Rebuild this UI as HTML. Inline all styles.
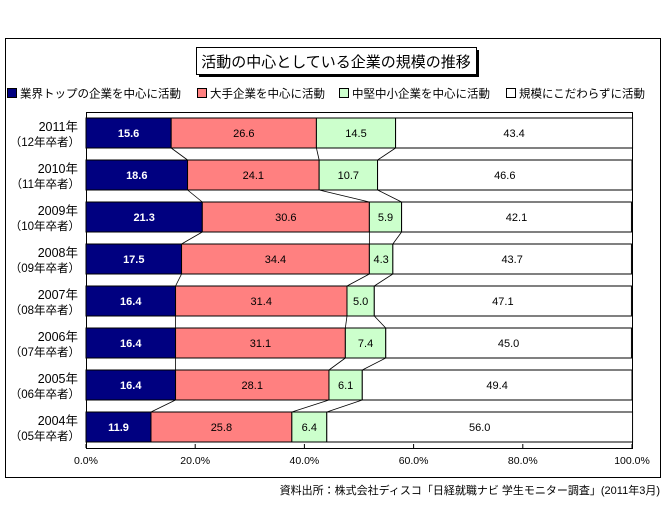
<!DOCTYPE html>
<html><head><meta charset="utf-8">
<style>
body{margin:0;background:#fff;width:666px;height:505px;overflow:hidden;font-family:"Liberation Sans","Noto Sans CJK JP",sans-serif;}
svg{display:block}
</style></head>
<body>
<svg id="chart" width="666" height="505">
<rect x="5.5" y="38.5" width="655" height="439" fill="#fff" stroke="#000" stroke-width="1"/>
<rect x="199" y="50" width="280" height="27" fill="#000"/>
<rect x="196.5" y="47.5" width="280" height="27" fill="#fff" stroke="#000"/>
<text x="336" y="67" text-anchor="middle" font-size="15">活動の中心としている企業の規模の推移</text>
<g id="legend" font-size="11.5"></g>
<g id="plot"></g>
<text x="660" y="494" text-anchor="end" font-size="11">資料出所：株式会社ディスコ「日経就職ナビ 学生モニター調査」(2011年3月)</text>
</svg>
<script>
const categories=["2011年","2010年","2009年","2008年","2007年","2006年","2005年","2004年"];
const subLabels=["（12年卒者）","（11年卒者）","（10年卒者）","（09年卒者）","（08年卒者）","（07年卒者）","（06年卒者）","（05年卒者）"];
const seriesNames=["業界トップの企業を中心に活動","大手企業を中心に活動","中堅中小企業を中心に活動","規模にこだわらずに活動"];
const topValues=[15.6,18.6,21.3,17.5,16.4,16.4,16.4,11.9];
const largeValues=[26.6,24.1,30.6,34.4,31.4,31.1,28.1,25.8];
const midValues=[14.5,10.7,5.9,4.3,5.0,7.4,6.1,6.4];
const anyValues=[43.4,46.6,42.1,43.7,47.1,45.0,49.4,56.0];
const tickLabels=["0.0%","20.0%","40.0%","60.0%","80.0%","100.0%"];
const tickValues=[0,20,40,60,80,100];

const NS="http://www.w3.org/2000/svg";
const colors=["#000080","#ff8080","#ccffcc","#ffffff"];
const textColors=["#fff","#000","#000","#000"];
const X0=86,X1=632,Y0=112,PITCH=42,BH=30,BOFF=6;
const x=v=>X0+(X1-X0)*v/100;
const yTop=i=>Y0+BOFF+i*PITCH;
function el(tag,attrs,parent){const e=document.createElementNS(NS,tag);for(const k in attrs)e.setAttribute(k,attrs[k]);parent.appendChild(e);return e;}
const plot=document.getElementById('plot');
const legend=document.getElementById('legend');
const legX=[6,196,338,505];
seriesNames.forEach((n,i)=>{
  const r=el('rect',{x:legX[i]+1.5,y:88.5,width:9,height:9,fill:colors[i],stroke:'#000'},legend);
  
  
  const t=el('text',{x:legX[i]+14,y:97.5},legend);t.textContent=n;
  
  
});
const fr=el('rect',{x:X0+0.5,y:Y0+0.5,width:X1-X0,height:PITCH*categories.length,fill:'none',stroke:'#000','stroke-width':1},plot);


const bottom=Y0+PITCH*categories.length;
tickValues.forEach((v,i)=>{
  const l=el('line',{x1:x(v),x2:x(v),y1:bottom,y2:bottom-4,stroke:'#000'},plot);
  
  
  const t=el('text',{x:x(v),y:bottom+16,'text-anchor':'middle','font-size':10.5},plot);
  t.textContent=tickLabels[i];
  
  
});
const series=[topValues,largeValues,midValues,anyValues];
for(let i=0;i<categories.length-1;i++){
  let c1=0,c2=0;
  for(let s=0;s<3;s++){
    c1+=series[s][i];c2+=series[s][i+1];
    const l=el('line',{x1:x(c1),y1:yTop(i)+BH,x2:x(c2),y2:yTop(i+1),stroke:'#000','stroke-width':0.8},plot);
    
    
  }
}
categories.forEach((c,i)=>{
  const y=yTop(i);
  const t1=el('text',{x:78,y:y+13,'text-anchor':'end','font-size':12.5},plot);t1.textContent=c;
  
  
  const t2=el('text',{x:80,y:y+28,'text-anchor':'end','font-size':11.5},plot);t2.textContent=subLabels[i];
  
  
  let cum=0;
  series.forEach((arr,s)=>{
    const v=arr[i];
    const r=el('rect',{x:x(cum),y:y,width:x(cum+v)-x(cum),height:BH,fill:colors[s],stroke:'#000','stroke-width':1},plot);
    
    
    const t=el('text',{x:(x(cum)+x(cum+v))/2,y:y+19,'text-anchor':'middle','font-size':11,fill:textColors[s],'font-weight':s==0?'bold':'normal'},plot);
    t.textContent=v.toFixed(1);
    
    
    cum+=v;
  });
});
</script>
</body></html>
